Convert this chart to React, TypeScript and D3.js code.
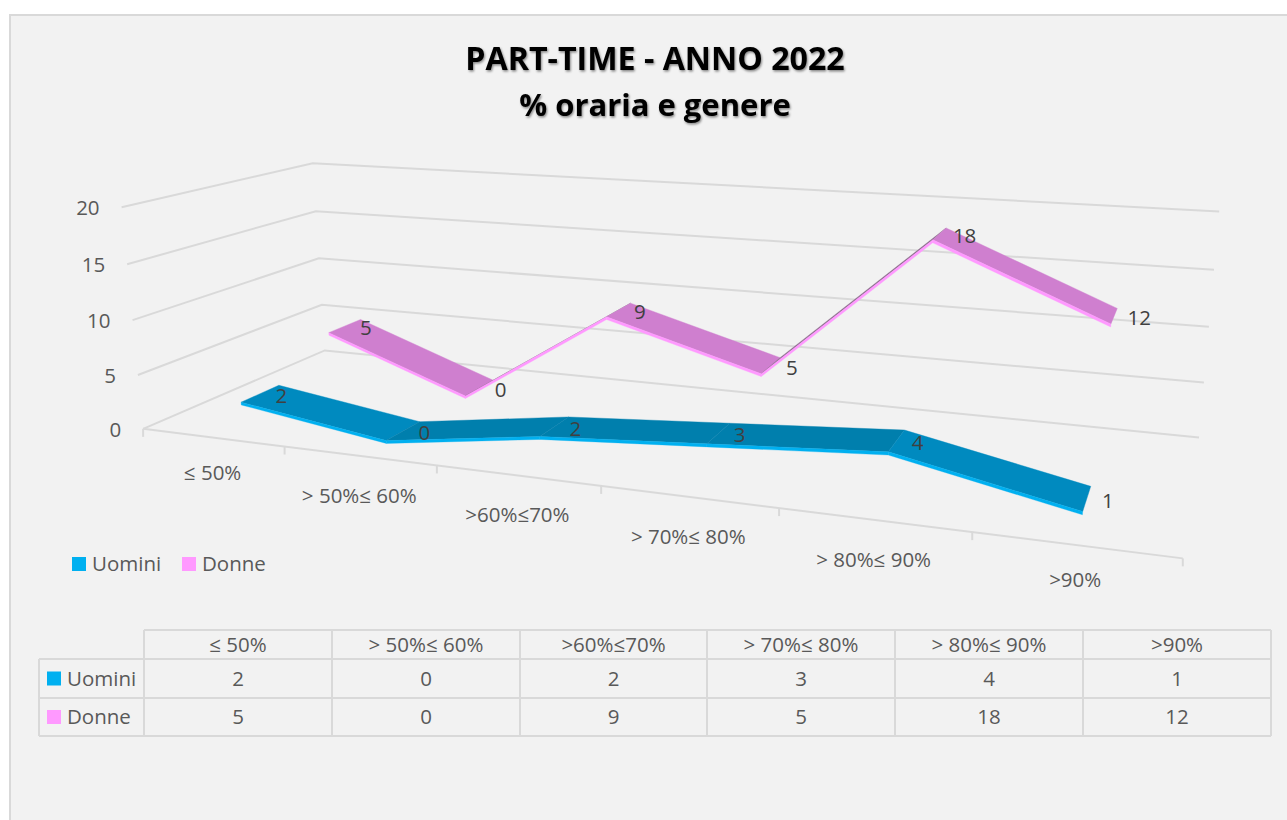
import React from "react";
import * as d3 from "d3";

const categories = ["≤ 50%", "> 50%≤ 60%", ">60%≤70%", "> 70%≤ 80%", "> 80%≤ 90%", ">90%"];
const uomini = [2, 0, 2, 3, 4, 1];
const donne = [5, 0, 9, 5, 18, 12];
const yTicks = [0, 5, 10, 15, 20];
const titleLines = ["PART-TIME - ANNO 2022", "% oraria e genere"];
const titleSizes = [32.2, 31];
const categoryLabelDy = [34, 39, 39, 39, 39, 34];

const FONT = "'Open Sans', sans-serif";
const FS = 20.5;
const TXT = "#595959";
const GRID = "#D9D9D9";

// camera calibration: [category-axis position 0..6, value, depth 0..1] -> pixel
const calibration: number[][] = [
  [0, 0, 0, 144, 429], [1, 0, 0, 285, 446], [2, 0, 0, 437, 465], [3, 0, 0, 602, 486], [4, 0, 0, 778, 508], [5, 0, 0, 971, 533], [6, 0, 0, 1184, 558],
  [0, 5, 0, 137, 375], [0, 10, 0, 132, 321], [0, 15, 0, 127, 264], [0, 20, 0, 122, 207],
  [0, 0, 1, 325, 351], [0, 5, 1, 321, 305], [0, 10, 1, 319, 258], [0, 15, 1, 316, 211], [0, 20, 1, 313, 163],
  [6, 0, 1, 1199, 437], [6, 5, 1, 1204, 382], [6, 10, 1, 1209, 327], [6, 15, 1, 1214, 270], [6, 20, 1, 1219, 212],
];

function fitCamera(rows: number[][]) {
  const n = 11;
  const A = Array.from({ length: n }, () => new Array(n + 1).fill(0));
  const add = (c: number[], r: number) => {
    for (let i = 0; i < n; i++) {
      for (let j = 0; j < n; j++) A[i][j] += c[i] * c[j];
      A[i][n] += c[i] * r;
    }
  };
  rows.forEach(([u0, y0, v, X0, Y0]) => {
    const u = u0 / 6, y = y0 / 20, X = X0 / 1000, Y = Y0 / 1000;
    add([u, y, v, 1, 0, 0, 0, 0, -X * u, -X * y, -X * v], X);
    add([0, 0, 0, 0, u, y, v, 1, -Y * u, -Y * y, -Y * v], Y);
  });
  for (let c = 0; c < n; c++) {
    let best = c;
    for (let r = c + 1; r < n; r++) if (Math.abs(A[r][c]) > Math.abs(A[best][c])) best = r;
    [A[c], A[best]] = [A[best], A[c]];
    for (let r = 0; r < n; r++) {
      if (r === c) continue;
      const f = A[r][c] / A[c][c];
      for (let k = c; k <= n; k++) A[r][k] -= f * A[c][k];
    }
  }
  return A.map((row, i) => row[n] / row[i]);
}
const P = fitCamera(calibration);
const project = (u0: number, y0: number, v: number): [number, number] => {
  const u = u0 / 6, y = y0 / 20;
  const w = P[8] * u + P[9] * y + P[10] * v + 1;
  return [
    (1000 * (P[0] * u + P[1] * y + P[2] * v + P[3])) / w,
    (1000 * (P[4] * u + P[5] * y + P[6] * v + P[7])) / w,
  ];
};

const xBand = d3.scaleBand<string>().domain(categories).range([0, 6]);
const uCenter = (i: number) => (xBand(categories[i]) as number) + xBand.bandwidth() / 2;
const poly = d3.line<[number, number]>();
const quad = (pts: [number, number][]) => poly(pts) + "Z";

const THICK = 0.26;
type Ser = { name: string; values: number[]; v0: number; v1: number; front: string; down: string; up: string };
const series: Ser[] = [
  { name: "Donne", values: donne, v0: 0.65, v1: 0.85, front: "#FF99FF", down: "#CF7FCF", up: "#8A6A8A" },
  { name: "Uomini", values: uomini, v0: 0.15, v1: 0.35, front: "#00B0F0", down: "#008ABF", up: "#007FAD" },
];
const legendItems = [{ name: "Uomini", color: "#00B0F0", x: 72 }, { name: "Donne", color: "#FF99FF", x: 182 }];
const tableCols = [144, 332, 520, 707, 895, 1083, 1271];
const tableRows = [630, 659, 698, 736];

function Ribbon({ s }: { s: Ser }) {
  const segs = d3.pairs(s.values.map((val, i) => ({ val, u: uCenter(i) })));
  return (
    <g>
      {segs.map(([a, b], i) => {
        const c = b.val >= a.val ? s.up : s.down;
        return (
          <path key={"t" + i} d={quad([project(a.u, a.val, s.v0), project(b.u, b.val, s.v0), project(b.u, b.val, s.v1), project(a.u, a.val, s.v1)])}
            fill={c} stroke={c} strokeWidth={0.4} />
        );
      })}
      {segs.map(([a, b], i) => (
        <path key={"f" + i} d={quad([project(a.u, a.val, s.v0), project(b.u, b.val, s.v0), project(b.u, b.val - THICK, s.v0), project(a.u, a.val - THICK, s.v0)])}
          fill={s.front} stroke={s.front} strokeWidth={0.3} />
      ))}
    </g>
  );
}

function Labels({ s }: { s: Ser }) {
  return (
    <g>
      {s.values.map((val, i) => {
        const [x, y] = project(uCenter(i), val, (s.v0 + s.v1) / 2);
        return (
          <text key={i} x={x + (val >= 10 ? 25 : 21)} y={y + 1} textAnchor="middle" dominantBaseline="central"
            fontFamily={FONT} fontSize={FS} fill="#404040">{val}</text>
        );
      })}
    </g>
  );
}

export default function App() {
  const tableValues = [{ name: "Uomini", vals: uomini, color: "#00B0F0" }, { name: "Donne", vals: donne, color: "#FF99FF" }];
  return (
    <svg width={1287} height={820} style={{ position: "absolute", left: 0, top: 0 }}>
      <defs>
        <filter id="ts" x="-5%" y="-20%" width="110%" height="150%">
          <feDropShadow dx="1" dy="1.5" stdDeviation="1.2" floodColor="#000" floodOpacity="0.45" />
        </filter>
      </defs>
      <rect x={0} y={0} width={1287} height={820} fill="#fff" />
      <rect x={10} y={15} width={1300} height={840} fill="#F2F2F2" stroke={GRID} strokeWidth={2} />

      <g fontFamily={FONT} fontWeight={700} textAnchor="middle" fill="#000" filter="url(#ts)">
        {titleLines.map((t, i) => (
          <text key={t} x={655} y={70 + i * 46} fontSize={titleSizes[i]}>{t}</text>
        ))}
      </g>

      {/* gridlines */}
      <g stroke={GRID} strokeWidth={2} fill="none">
        {yTicks.map((t) => (
          <path key={t} d={poly([project(0, t, 0), project(0, t, 1), project(6, t, 1)]) as string} />
        ))}
        <path d={poly([project(0, 0, 0), project(6, 0, 0)]) as string} />
        {d3.range(0, 7).map((i) => {
          const [x, y] = project(i, 0, 0);
          return <line key={i} x1={x} y1={y} x2={x} y2={y + 8} />;
        })}
      </g>

      {yTicks.map((t) => {
        const [x, y] = project(0, t, 0);
        return (
          <text key={t} x={x - 22} y={y} textAnchor="end" dominantBaseline="central" fontFamily={FONT} fontSize={FS} fill={TXT}>{t}</text>
        );
      })}

      {categories.map((c, i) => {
        const [x, y] = project(uCenter(i), 0, 0);
        return (
          <text key={c} x={x} y={y + categoryLabelDy[i]} textAnchor="middle" dominantBaseline="central" fontFamily={FONT} fontSize={FS} fill={TXT}>{c}</text>
        );
      })}

      {series.map((s) => <Ribbon key={s.name} s={s} />)}
      {series.map((s) => <Labels key={s.name} s={s} />)}

      {/* legend */}
      {legendItems.map((l) => (
        <g key={l.name}>
          <rect x={l.x} y={557} width={14} height={14} fill={l.color} />
          <text x={l.x + 20} y={563} dominantBaseline="central" fontFamily={FONT} fontSize={FS} fill={TXT}>{l.name}</text>
        </g>
      ))}

      {/* data table */}
      <g stroke={GRID} strokeWidth={2} fill="none">
        <line x1={144} x2={1271} y1={630} y2={630} />
        {tableRows.slice(1).map((y) => <line key={y} x1={39} x2={1271} y1={y} y2={y} />)}
        {tableCols.map((x) => <line key={x} x1={x} x2={x} y1={630} y2={736} />)}
        <line x1={39} x2={39} y1={659} y2={736} />
      </g>
      {categories.map((c, i) => (
        <text key={c} x={(tableCols[i] + tableCols[i + 1]) / 2} y={643.5} textAnchor="middle" dominantBaseline="central"
          fontFamily={FONT} fontSize={FS} fill={TXT}>{c}</text>
      ))}
      {tableValues.map((r, ri) => {
        const cy = (tableRows[ri + 1] + tableRows[ri + 2]) / 2;
        return (
          <g key={r.name} fontFamily={FONT} fontSize={FS} fill={TXT}>
            <rect x={47} y={cy - 7} width={14} height={14} fill={r.color} />
            <text x={67} y={cy - 1} dominantBaseline="central">{r.name}</text>
            {r.vals.map((v, i) => (
              <text key={i} x={(tableCols[i] + tableCols[i + 1]) / 2} y={cy - 1} textAnchor="middle" dominantBaseline="central">{v}</text>
            ))}
          </g>
        );
      })}
    </svg>
  );
}
